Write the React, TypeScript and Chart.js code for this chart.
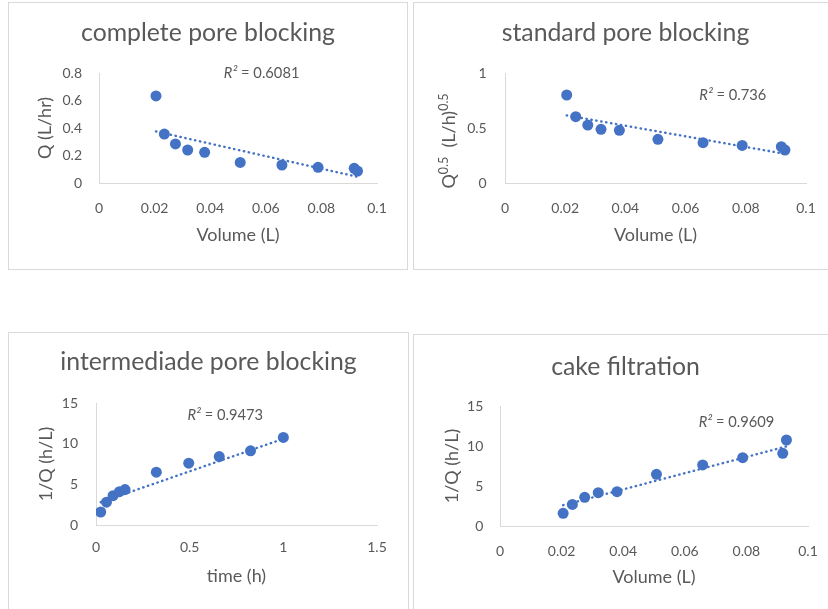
import React, { useEffect, useRef } from "react";
import { Chart, registerables } from "chart.js";

Chart.register(...registerables);

const FONT = "Lato, 'Open Sans', sans-serif";
const TEXT = "#595959";
const BLUE = "#4472C4";
const LINE = "#d9d9d9";

// ---- data ----
const volumeL = [0.0205, 0.0235, 0.0275, 0.0319, 0.038, 0.0508, 0.0658, 0.0788, 0.0918, 0.093];
const flowQ = [0.633, 0.356, 0.284, 0.24, 0.223, 0.15, 0.131, 0.114, 0.107, 0.087];
const sqrtQ = [0.8, 0.603, 0.527, 0.488, 0.479, 0.397, 0.367, 0.342, 0.33, 0.3];
const timeH = [0.025, 0.056, 0.091, 0.125, 0.155, 0.322, 0.495, 0.658, 0.825, 1.0];
const invQByTime = [1.6, 2.8, 3.6, 4.1, 4.35, 6.5, 7.6, 8.42, 9.12, 10.76];
const invQByVolume = [1.59, 2.7, 3.58, 4.17, 4.29, 6.46, 7.63, 8.54, 9.08, 10.75];

// trendline end points (x, y)
const trendCompleteX = [0.0205, 0.093];
const trendCompleteY = [0.375, 0.045];
const trendStandardX = [0.0205, 0.093];
const trendStandardY = [0.615, 0.265];
const trendInterX = [0.025, 1.0];
const trendInterY = [2.8, 10.6];
const trendCakeX = [0.0205, 0.093];
const trendCakeY = [2.6, 9.95];

// tick values
const volumeTicks = [0, 0.02, 0.04, 0.06, 0.08, 0.1];
const qTicks = [0, 0.2, 0.4, 0.6, 0.8];
const sqrtQTicks = [0, 0.5, 1];
const timeTicks = [0, 0.5, 1, 1.5];
const invQTicks = [0, 5, 10, 15];

// text
const titles = ["complete pore blocking", "standard pore blocking", "intermediade pore blocking", "cake filtration"];
const r2Values = ["0.6081", "0.736", "0.9473", "0.9609"];

const fmt = (v: any) => String(+Number(v).toFixed(4));

type Seg = { t: string; sup?: boolean; italic?: boolean };

function drawSegs(ctx: CanvasRenderingContext2D, segs: Seg[], cx: number, cy: number, size: number, supSize: number) {
  const fontFor = (s: Seg) => `${s.italic ? "italic " : ""}${s.sup ? supSize : size}px ${FONT}`;
  let total = 0;
  const widths = segs.map((s) => {
    ctx.font = fontFor(s);
    const w = ctx.measureText(s.t).width;
    total += w;
    return w;
  });
  let x = cx - total / 2;
  ctx.textAlign = "left";
  ctx.textBaseline = "middle";
  segs.forEach((s, i) => {
    ctx.font = fontFor(s);
    ctx.fillText(s.t, x, s.sup ? cy - size * 0.32 : cy);
    x += widths[i];
  });
}

const panelText = {
  id: "panelText",
  afterDraw(chart: any, _args: any, opts: any) {
    const ctx: CanvasRenderingContext2D = chart.ctx;
    ctx.save();
    ctx.fillStyle = TEXT;
    ctx.textAlign = "center";
    ctx.textBaseline = "middle";
    ctx.font = `${opts.titleSize}px ${FONT}`;
    ctx.fillText(opts.title, chart.width / 2, opts.titleY);
    const px = chart.scales.x.getPixelForValue(opts.r2x);
    const py = chart.scales.y.getPixelForValue(opts.r2y);
    drawSegs(ctx, [{ t: "R²", italic: true }, { t: " = " + opts.r2 }], px, py, 14.7, 14.7);
    if (opts.ySegs) {
      ctx.translate(opts.yTitleX, opts.yTitleY);
      ctx.rotate(-Math.PI / 2);
      drawSegs(ctx, opts.ySegs, 0, 0, 18, 12.5);
    }
    ctx.restore();
  },
};

type PanelCfg = {
  left: number; top: number; w: number; h: number;
  L: number; T: number; R: number; B: number;
  title: string; titleY: number;
  xs: number[]; ys: number[]; tx: number[]; ty: number[];
  xMax: number; yMax: number; xTicks: number[]; yTicks: number[];
  xTitle: string; yTitle: string | null; ySegs?: Seg[]; yTitleX?: number; yTitleY?: number;
  xTickPad: number; xTitlePad: number; yTickPad: number; yTitlePad: number;
  r2: string; r2x: number; r2y: number;
};

function Panel({ cfg }: { cfg: PanelCfg }) {
  const ref = useRef<HTMLCanvasElement | null>(null);
  useEffect(() => {
    if (!ref.current) return;
    const tickFont = { family: FONT, size: 14 };
    const axisFont = { family: FONT, size: 18 };
    const chart = new Chart(ref.current, {
      type: "scatter",
      data: {
        datasets: [
          {
            data: cfg.tx.map((x, i) => ({ x, y: cfg.ty[i] })),
            showLine: true,
            borderColor: BLUE,
            borderWidth: 2.4,
            borderDash: [0.4, 4.6],
            borderCapStyle: "round",
            pointRadius: 0,
            fill: false,
          } as any,
          {
            data: cfg.xs.map((x, i) => ({ x, y: cfg.ys[i] })),
            pointRadius: 5.5,
            pointBackgroundColor: BLUE,
            pointBorderWidth: 0,
            showLine: false,
          } as any,
        ],
      },
      options: {
        responsive: false,
        animation: false,
        layout: { padding: { left: 0, top: cfg.T, right: cfg.w - cfg.R, bottom: 0 } },
        plugins: {
          legend: { display: false },
          tooltip: { enabled: false },
          title: { display: false },
          panelText: {
            title: cfg.title, titleY: cfg.titleY, titleSize: 24.8,
            r2: cfg.r2, r2x: cfg.r2x, r2y: cfg.r2y,
            ySegs: cfg.ySegs, yTitleX: cfg.yTitleX, yTitleY: cfg.yTitleY,
          },
        } as any,
        scales: {
          x: {
            type: "linear",
            min: 0,
            max: cfg.xMax,
            afterBuildTicks: (s: any) => { s.ticks = cfg.xTicks.map((value) => ({ value })); },
            afterFit: (s: any) => { s.height = cfg.h - cfg.B; },
            grid: { display: false, drawTicks: false },
            border: { display: true, color: LINE, width: 1 },
            ticks: { padding: cfg.xTickPad, color: TEXT, font: tickFont, callback: fmt, maxRotation: 0, autoSkip: false },
            title: { display: true, text: cfg.xTitle, color: TEXT, font: axisFont, padding: { top: 0, bottom: cfg.xTitlePad } },
          },
          y: {
            type: "linear",
            min: 0,
            max: cfg.yMax,
            afterBuildTicks: (s: any) => { s.ticks = cfg.yTicks.map((value) => ({ value })); },
            afterFit: (s: any) => { s.width = cfg.L; },
            grid: { display: false, drawTicks: false },
            border: { display: true, color: LINE, width: 1 },
            ticks: { padding: cfg.yTickPad, color: TEXT, font: tickFont, callback: fmt, autoSkip: false },
            title: { display: !!cfg.yTitle, text: cfg.yTitle || "", color: TEXT, font: axisFont, padding: { top: cfg.yTitlePad, bottom: 0 } },
          },
        } as any,
      },
      plugins: [panelText as any],
    });
    return () => chart.destroy();
  }, [cfg]);
  return (
    <>
      <div
        style={{
          position: "absolute", left: cfg.left, top: cfg.top, width: cfg.w, height: cfg.h,
          border: `1px solid ${LINE}`, boxSizing: "border-box", background: "#fff",
        }}
      />
      <canvas
        ref={ref}
        width={cfg.w}
        height={cfg.h}
        style={{ position: "absolute", left: cfg.left, top: cfg.top, width: cfg.w, height: cfg.h, display: "block" }}
      />
    </>
  );
}

const panels: PanelCfg[] = [
  {
    left: 8, top: 2, w: 400, h: 268, L: 91, T: 71, R: 369, B: 181,
    title: titles[0], titleY: 31,
    xs: volumeL, ys: flowQ, tx: trendCompleteX, ty: trendCompleteY,
    xMax: 0.1, yMax: 0.8, xTicks: volumeTicks, yTicks: qTicks,
    xTitle: "Volume (L)", yTitle: "Q (L/hr)",
    xTickPad: 16.6, xTitlePad: 24.2, yTickPad: 17, yTitlePad: 26.2,
    r2: r2Values[0], r2x: 0.0585, r2y: 0.8,
  },
  {
    left: 413, top: 2, w: 425, h: 268, L: 92, T: 71, R: 393, B: 181,
    title: titles[1], titleY: 31,
    xs: volumeL, ys: sqrtQ, tx: trendStandardX, ty: trendStandardY,
    xMax: 0.1, yMax: 1, xTicks: volumeTicks, yTicks: sqrtQTicks,
    xTitle: "Volume (L)", yTitle: null,
    ySegs: [{ t: "Q" }, { t: "0.5", sup: true }, { t: "  (L/h)" }, { t: "0.5", sup: true }],
    yTitleX: 36.3, yTitleY: 139,
    xTickPad: 16.6, xTitlePad: 24.2, yTickPad: 18.3, yTitlePad: 0,
    r2: r2Values[1], r2x: 0.0757, r2y: 0.8,
  },
  {
    left: 8, top: 332, w: 401, h: 290, L: 88, T: 71, R: 369, B: 193,
    title: titles[2], titleY: 30.3,
    xs: timeH, ys: invQByTime, tx: trendInterX, ty: trendInterY,
    xMax: 1.5, yMax: 15, xTicks: timeTicks, yTicks: invQTicks,
    xTitle: "time (h)", yTitle: "1/Q (h/L)",
    xTickPad: 14.4, xTitlePad: 35.5, yTickPad: 18, yTitlePad: 27.2,
    r2: r2Values[2], r2x: 0.69, r2y: 13.5,
  },
  {
    left: 413, top: 334, w: 425, h: 290, L: 87, T: 72, R: 395, B: 192,
    title: titles[3], titleY: 32.7,
    xs: volumeL, ys: invQByVolume, tx: trendCakeX, ty: trendCakeY,
    xMax: 0.1, yMax: 15, xTicks: volumeTicks, yTicks: invQTicks,
    xTitle: "Volume (L)", yTitle: "1/Q (h/L)",
    xTickPad: 16.6, xTitlePad: 35.9, yTickPad: 16.7, yTitlePad: 27.9,
    r2: r2Values[3], r2x: 0.0768, r2y: 12.96,
  },
];

export default function App() {
  return (
    <div style={{ position: "fixed", left: 0, top: 0, width: 828, height: 609, overflow: "hidden", background: "#fff" }}>
      {panels.map((p, i) => (
        <Panel key={i} cfg={p} />
      ))}
    </div>
  );
}
